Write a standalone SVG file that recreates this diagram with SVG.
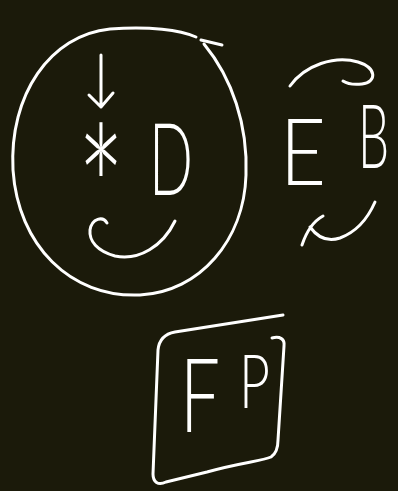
<svg xmlns="http://www.w3.org/2000/svg" width="398" height="491" viewBox="0 0 398 491">
<style>
.s{fill:none;stroke:#ffffff;stroke-width:3;stroke-linecap:round;stroke-linejoin:round}
.t{fill:#ffffff;font-family:Lato,"Open Sans","Liberation Sans",sans-serif;font-weight:300}
</style>
<rect width="398" height="491" fill="#1b1a0a"/>
<g id="circle-node">
<path class="s" d="M204,44 C232,78 248,125 246,175 C244,240 200,292 140,295 C70,298 18,245 13,170 C9,95 50,35 110,29 C150,26 180,30 196,37"/>
<path class="s" d="M201,40 L222,45"/>
<text class="t" x="77" y="257" font-size="180" textLength="48" lengthAdjust="spacingAndGlyphs">*</text>
<text class="t" x="149" y="195" font-size="100" textLength="44" lengthAdjust="spacingAndGlyphs">D</text>
<path class="s" d="M107,223 C103,216 92,218 90,230 C89,241 97,251 115,256 C139,261 163,246 175,221"/>
</g>
<g id="eb-node">
<text class="t" x="280" y="185" font-size="92" textLength="46" lengthAdjust="spacingAndGlyphs">E</text>
<text class="t" transform="matrix(0.56,0,0,1,358,168)" x="0" y="0" font-size="88">B</text>
</g>
<g id="fp-node">
<path class="s" d="M283,315 L175,332 C164,334 159,340 158,350 L153,474 C153,482 158,486 166,482 L207,472 C238,463 262,461 271,457 C277,453 278,447 278,440 L284,346 C285,339 280,336 272,338"/>
<text class="t" x="180" y="432" font-size="103" textLength="40" lengthAdjust="spacingAndGlyphs">F</text>
<text class="t" x="239" y="408" font-size="74" textLength="31" lengthAdjust="spacingAndGlyphs">P</text>
</g>
<g id="connectors">
<path class="s" d="M101,55 L101,107 M89,95 L101,107 L113,93"/>
<path class="s" d="M290,86 C305,65 335,55 358,62 C377,68 377,82 362,84 C353,85 346,83 343,81"/>
<path class="s" d="M302,245 C306,233 312,222 323,216 M310,227 C318,238 328,242 340,238 C356,232 368,218 375,202"/>
</g>
</svg>
